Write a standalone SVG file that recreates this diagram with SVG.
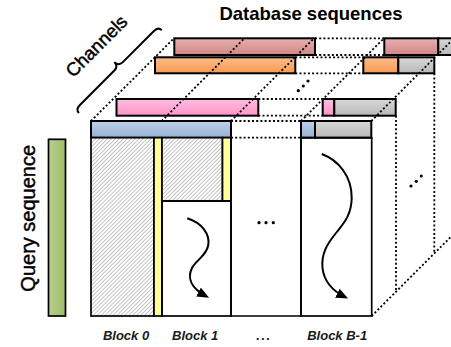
<svg xmlns="http://www.w3.org/2000/svg" width="451" height="347" viewBox="0 0 451 347">
<defs>
<linearGradient id="gRed" x1="0" y1="0" x2="0" y2="1"><stop offset="0" stop-color="#e7b0af"/><stop offset="1" stop-color="#cf8786"/></linearGradient>
<linearGradient id="gOrange" x1="0" y1="0" x2="0" y2="1"><stop offset="0" stop-color="#fbbd88"/><stop offset="1" stop-color="#f79a52"/></linearGradient>
<linearGradient id="gPink" x1="0" y1="0" x2="0" y2="1"><stop offset="0" stop-color="#ffbde0"/><stop offset="1" stop-color="#ff94c9"/></linearGradient>
<linearGradient id="gBlue" x1="0" y1="0" x2="0" y2="1"><stop offset="0" stop-color="#bed0e6"/><stop offset="1" stop-color="#94b1d5"/></linearGradient>
<linearGradient id="gGray" x1="0" y1="0" x2="0" y2="1"><stop offset="0" stop-color="#d8d8d8"/><stop offset="1" stop-color="#b8b8b8"/></linearGradient>
<linearGradient id="gGreen" x1="0" y1="0" x2="1" y2="0"><stop offset="0" stop-color="#b7ce8e"/><stop offset="1" stop-color="#9fbd65"/></linearGradient>
<pattern id="hatch" width="2.8" height="2.8" patternUnits="userSpaceOnUse" patternTransform="rotate(45)">
<rect width="2.8" height="2.8" fill="#ffffff"/>
<line x1="0" y1="0" x2="0" y2="2.8" stroke="#7a7a7a" stroke-width="0.9"/>
</pattern>
<marker id="ah" markerWidth="13" markerHeight="11" refX="8.5" refY="5" orient="auto" markerUnits="userSpaceOnUse">
<path d="M0,0 L12,5 L0,10 z" fill="#000"/>
</marker>
<style>
.bar{stroke:#000;stroke-width:2}
.dot{fill:none;stroke:#000;stroke-width:1.8;stroke-dasharray:2 2.2}
.grid{stroke:#000;stroke-width:1.7}
.flow{fill:none;stroke:#000;stroke-width:2}
.lbl{font-family:"Liberation Sans",Arial,sans-serif;fill:#000}
.blk{font-family:"Liberation Sans",Arial,sans-serif;font-size:13px;font-style:italic;font-weight:bold;fill:#1a1a1a;text-anchor:middle}
</style>
</defs>
<rect width="451" height="347" fill="#ffffff"/>

<g id="layer-red">
<rect class="bar" x="174.3" y="38.3" width="140.7" height="16.7" fill="url(#gRed)"/>
<rect class="bar" x="384.3" y="38.3" width="54" height="16.7" fill="url(#gRed)"/>
<rect class="bar" x="438.3" y="38.3" width="20" height="16.7" fill="url(#gGray)"/>
</g>
<g id="layer-orange">
<rect class="bar" x="155" y="57.3" width="140.3" height="16" fill="url(#gOrange)"/>
<rect class="bar" x="363.3" y="57.3" width="35" height="16" fill="url(#gOrange)"/>
<rect class="bar" x="398.3" y="57.3" width="36" height="16" fill="url(#gGray)"/>
</g>
<g id="layer-pink">
<rect class="bar" x="116.5" y="99" width="141.8" height="16.7" fill="url(#gPink)"/>
<rect class="bar" x="322.7" y="99" width="11.6" height="16.7" fill="url(#gPink)"/>
<rect class="bar" x="334.3" y="99" width="61.4" height="16.7" fill="url(#gGray)"/>
</g>

<g id="connectors">
<line class="dot" x1="315" y1="38.3" x2="384.3" y2="38.3"/>
<line class="dot" x1="315" y1="55" x2="384.3" y2="55"/>
<line class="dot" x1="295.3" y1="57.3" x2="363.3" y2="57.3"/>
<line class="dot" x1="295.3" y1="73.3" x2="363.3" y2="73.3"/>
<line class="dot" x1="258.3" y1="99" x2="322.7" y2="99"/>
<line class="dot" x1="258.3" y1="115.7" x2="322.7" y2="115.7"/>
<line class="dot" x1="231" y1="121" x2="301" y2="121"/>
<line class="dot" x1="91" y1="121" x2="174.3" y2="38"/>
<line class="dot" x1="161.7" y1="121" x2="244.7" y2="38"/>
<line class="dot" x1="231" y1="121" x2="314.3" y2="38"/>
<line class="dot" x1="301" y1="121" x2="384.3" y2="38"/>
<line class="dot" x1="371.3" y1="121" x2="454" y2="38.3"/>
<line class="dot" x1="371.7" y1="316" x2="454" y2="233.7"/>
<line class="dot" x1="396" y1="115.7" x2="396" y2="291.7"/>
<line class="dot" x1="434.3" y1="73.3" x2="434.3" y2="253.4"/>
</g>

<g id="ellipsis-dots" fill="#000">
<circle cx="298.3" cy="90.7" r="1.6"/><circle cx="303.3" cy="86" r="1.6"/><circle cx="308" cy="81" r="1.6"/>
<circle cx="411" cy="186" r="1.6"/><circle cx="416.3" cy="181.3" r="1.6"/><circle cx="421.3" cy="176" r="1.6"/>
<circle cx="259" cy="222.7" r="1.6"/><circle cx="266" cy="222.7" r="1.6"/><circle cx="273.3" cy="222.7" r="1.6"/>
</g>

<g id="layer-blue">
<rect class="bar" x="91" y="121" width="140" height="16.7" fill="url(#gBlue)"/>
<rect class="bar" x="301" y="121" width="14" height="16.7" fill="url(#gBlue)"/>
<rect class="bar" x="315" y="121" width="56.3" height="16.7" fill="url(#gGray)"/>
</g>

<g id="block-0">
<rect class="grid" x="91" y="137.7" width="63" height="178.3" fill="url(#hatch)"/>
<rect class="grid" x="154" y="137.7" width="8" height="178.3" fill="#ffff99"/>
</g>
<g id="block-1">
<rect class="grid" x="162" y="137.7" width="60.5" height="63.3" fill="url(#hatch)"/>
<rect class="grid" x="222.5" y="137.7" width="8.5" height="63.3" fill="#ffff99"/>
<rect class="grid" x="162" y="201" width="69" height="115" fill="none"/>
<path class="flow" d="M187.3,218.3 C202,223 210,234 208.3,245 C206.5,256 196,260 192,268 C187,278 191,288 206,296" marker-end="url(#ah)"/>
</g>
<g id="block-mid">
<path class="grid" d="M231,137.7 V316 H301 V137.7" fill="none"/>
<line class="dot" x1="231" y1="137.7" x2="301" y2="137.7"/>
</g>
<g id="block-last">
<rect class="grid" x="301" y="137.7" width="70.7" height="178.3" fill="none"/>
<path class="flow" d="M321.7,154 C338,160 352,176 351.7,198 C351.4,216 343,224 336,233 C328,243 321,253 322.5,268 C324,281 333,291 345,297" marker-end="url(#ah)"/>
</g>

<g id="query-bar">
<rect x="48.5" y="139.3" width="17" height="176.7" fill="url(#gGreen)" stroke="#000" stroke-width="1.7"/>
</g>

<g id="channels-brace">
<path transform="translate(79,113) rotate(-45)" d="M0,0 Q0,-5 6,-5 L55,-5 Q61,-5 61,-11 Q61,-5 67,-5 L111,-5 Q117,-5 117,0" fill="none" stroke="#000" stroke-width="2"/>
</g>

<g id="labels">
<text class="lbl" x="311" y="20" font-size="18.5" font-weight="bold" text-anchor="middle">Database sequences</text>
<text class="lbl" transform="translate(35.3,218.3) rotate(-90)" font-size="20" text-anchor="middle" stroke="#000" stroke-width="0.45">Query sequence</text>
<text class="lbl" transform="translate(101,50.5) rotate(-45)" font-size="18.5" text-anchor="middle" stroke="#000" stroke-width="0.45">Channels</text>
<text class="blk" x="126" y="339.5">Block 0</text>
<text class="blk" x="195.2" y="339.5">Block 1</text>
<text class="blk" x="264" y="339.5" letter-spacing="1.5">...</text>
<text class="blk" x="337.2" y="339.5">Block B-1</text>
</g>
</svg>
